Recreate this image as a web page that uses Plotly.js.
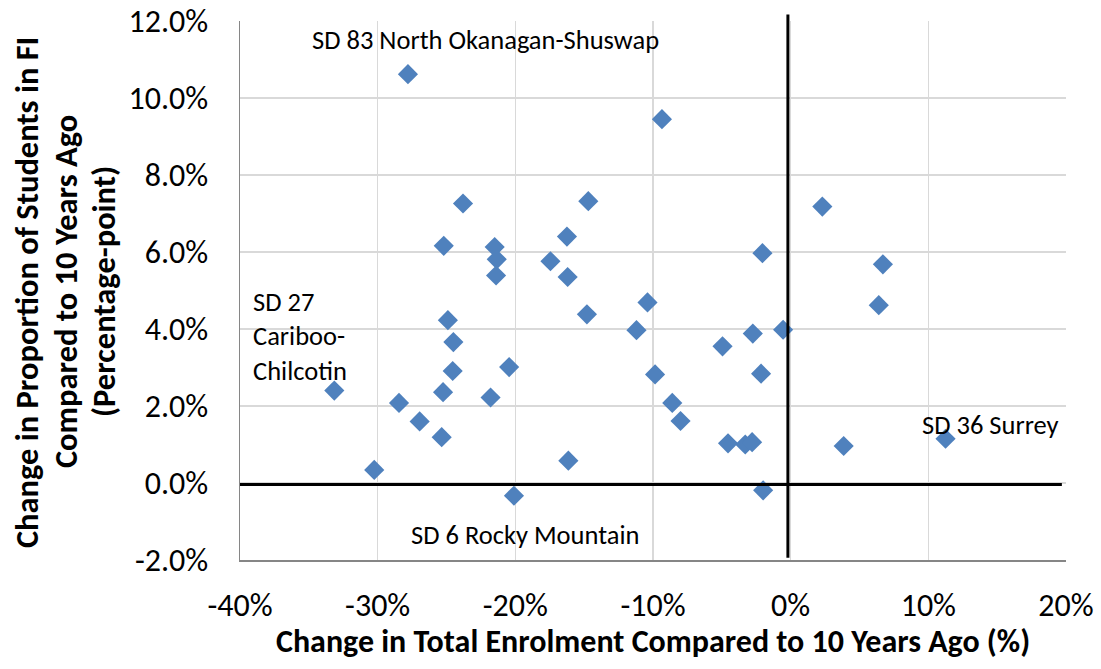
<!DOCTYPE html>
<html>
<head>
<meta charset="utf-8">
<script src="https://cdn.plot.ly/plotly-3.0.1.min.js"></script>
<style>html,body{margin:0;padding:0;background:#fff;}#chart{width:1101px;height:669px;}</style>
</head>
<body>
<div id="chart"></div>
<script>
// Change in total enrolment compared to 10 years ago (%)
const enrolmentChange = [
  -27.8, -9.35, -23.8, -14.7, 2.3, -25.2, -21.5, -21.35, -21.4, -16.25, -17.45,
  -16.2, -2.05, 6.7, 6.4, -10.4, -14.8, -11.2, -0.55, -2.75, -4.95, -2.15,
  -9.85, -8.6, -8.0, -4.55, -3.3, -2.8, -2.0, -16.15, -20.1, -30.25, -25.35,
  -26.95, -28.45, -33.15, -25.25, -24.55, -21.8, -20.45, -24.5, -24.9, 3.85, 11.25
];
// Change in proportion of students in FI (percentage-point)
const fiChange = [
  10.62, 9.45, 7.26, 7.32, 7.18, 6.16, 6.13, 5.81, 5.39, 6.40, 5.76,
  5.35, 5.97, 5.68, 4.62, 4.69, 4.38, 3.97, 3.98, 3.88, 3.55, 2.84,
  2.82, 2.08, 1.61, 1.03, 1.00, 1.06, -0.19, 0.58, -0.33, 0.34, 1.19,
  1.60, 2.08, 2.40, 2.36, 2.91, 2.22, 3.01, 3.66, 4.23, 0.96, 1.15
];
const xTickVals = [-40, -30, -20, -10, 0, 10, 20];
const xTickText = ['-40%', '-30%', '-20%', '-10%', '0%', '10%', '20%'];
const yTickVals = [-2, 0, 2, 4, 6, 8, 10, 12];
const yTickText = ['-2.0%', '0.0%', '2.0%', '4.0%', '6.0%', '8.0%', '10.0%', '12.0%'];
const labelNames = ['SD 83 North Okanagan-Shuswap', 'SD 27<br>Cariboo-<br>Chilcotin', 'SD 6 Rocky Mountain', 'SD 36 Surrey'];
const labelX = [-22.16, -39.22, -19.29, 14.48];
const labelY = [11.5, 3.8, -1.36, 1.5];
const labelAnchor = ['center', 'left', 'center', 'center'];
const xTitle = 'Change in Total Enrolment Compared to 10 Years Ago (%)';
const yTitleLines = ['Change in Proportion of Students in FI', 'Compared to 10 Years Ago', '(Percentage-point)'];

const FONT = "Carlito, Calibri, 'Liberation Sans', sans-serif";

const trace = {
  type: 'scatter',
  mode: 'markers',
  x: enrolmentChange,
  y: fiChange,
  marker: { symbol: 'diamond', size: 15.5, color: '#4F81BD', line: { width: 0 } },
  hoverinfo: 'x+y',
  showlegend: false,
  cliponaxis: false
};

const annotations = labelNames.map((t, i) => ({
  text: t, x: labelX[i], y: labelY[i], xref: 'x', yref: 'y',
  xanchor: labelAnchor[i], yanchor: 'middle', align: 'left', showarrow: false,
  font: { family: FONT, size: 26.5, color: '#000' }
}));
annotations.push({
  text: xTitle, xref: 'paper', yref: 'paper', x: 0.5, y: -0.152,
  xanchor: 'center', yanchor: 'middle', showarrow: false,
  font: { family: FONT, size: 32, color: '#000', weight: 'bold' }
});
// y-axis title: three lines, left of the plot (pixel offsets converted to paper units)
const yLinePx = [27, 66, 104];
yTitleLines.forEach((t, i) => {
  annotations.push({
    text: t, xref: 'paper', yref: 'paper', x: (yLinePx[i] - 240) / 826, y: 0.497,
    xanchor: 'center', yanchor: 'middle', showarrow: false, textangle: -90,
    font: { family: FONT, size: 32.5, color: '#000', weight: 'bold' }
  });
});

const layout = {
  width: 1101, height: 669,
  margin: { l: 240, r: 35, t: 21, b: 109, pad: 0 },
  paper_bgcolor: '#fff', plot_bgcolor: '#fff',
  xaxis: {
    range: [-40, 20], tickvals: xTickVals, ticktext: xTickText,
    showgrid: true, gridcolor: '#d9d9d9', gridwidth: 1.4,
    zeroline: false, showline: true, linecolor: '#868686', linewidth: 1.5,
    ticks: '', ticklabelstandoff: 16,
    tickfont: { family: FONT, size: 32, color: '#000' }
  },
  yaxis: {
    range: [-2, 12], tickvals: yTickVals, ticktext: yTickText,
    showgrid: true, gridcolor: '#d9d9d9', gridwidth: 1.4,
    zeroline: false, showline: true, linecolor: '#868686', linewidth: 1.5,
    ticks: '', ticklabelstandoff: 24,
    tickfont: { family: FONT, size: 32, color: '#000' }
  },
  shapes: [
    { type: 'line', xref: 'x', yref: 'paper', x0: -0.2, x1: -0.2, y0: 0.004, y1: 1.012,
      line: { color: '#000', width: 3 } },
    { type: 'line', xref: 'paper', yref: 'y', x0: 0, x1: 0.995, y0: -0.04, y1: -0.04,
      line: { color: '#000', width: 3 } }
  ],
  annotations: annotations
};

Plotly.newPlot('chart', [trace], layout, { displayModeBar: false, staticPlot: true });
</script>
</body>
</html>
